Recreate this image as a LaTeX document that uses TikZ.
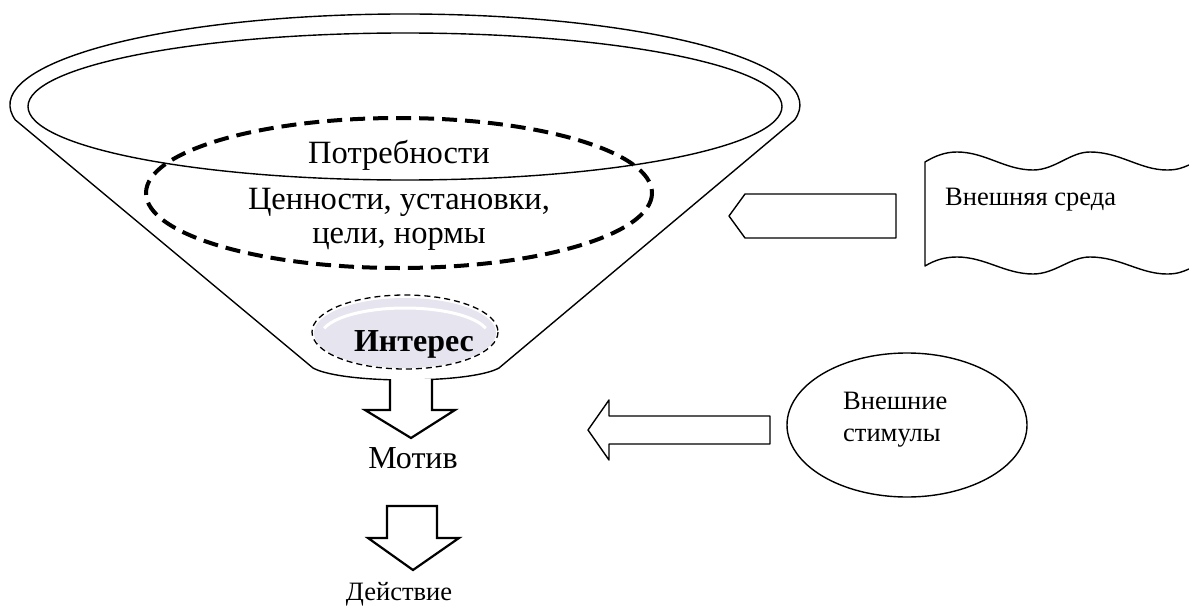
\documentclass[tikz,border=0pt]{standalone}
\usepackage{fontspec}
\setmainfont{Liberation Serif}
\definecolor{lav}{RGB}{230,228,238}
\begin{document}
\begin{tikzpicture}[x=1pt,y=-1pt,
  outline/.style={draw=black,line width=1.4pt,line join=round},
  blockarrow/.style={draw=black,line width=2.2pt,line join=miter,fill=white},
  bigdash/.style={draw=black,line width=4pt,dash pattern=on 15pt off 8pt},
  smalldash/.style={draw=black,line width=1.3pt,dash pattern=on 6pt off 4pt},
  txt/.style={inner sep=0pt,font=\fontsize{32.5}{36}\selectfont},
  smalltxt/.style={inner sep=0pt,font=\fontsize{26.5}{30}\selectfont}]
\useasboundingbox (0,0) rectangle (1189,610);

% funnel
\draw[outline] (15.4,120) arc[start angle=170.5, end angle=369.5, x radius=395, y radius=91]
  -- (499,368) .. controls (470,384) and (342,384) .. (313,368) -- cycle;
\draw[outline] (405,106.5) ellipse[x radius=377, y radius=73.5];
\draw[bigdash] (399,193) ellipse[x radius=253, y radius=75];

% interest
\fill[lav] (405,333) ellipse[x radius=91, y radius=35];
\draw[white,line width=3pt] (405,336) ++(196:84 and 28) arc[start angle=196, end angle=344, x radius=84, y radius=28];
\draw[smalldash] (405,332) ellipse[x radius=93, y radius=37];

% texts in funnel
\node[txt,anchor=base] (potr) at (399,163) {Потребности};
\node[txt,anchor=base] (cen1) at (399,209) {Ценности, установки,};
\node[txt,anchor=base] (cen2) at (399,243) {цели, нормы};
\node[inner sep=0pt,anchor=base,font=\fontsize{32}{36}\selectfont\bfseries] (int) at (414,351) {Интерес};

% down arrows
\draw[blockarrow] (390,379) -- (390,410) -- (365,410) -- (411,438) -- (455,410) -- (432,410) -- (432,379);
\node[inner sep=0pt,anchor=base,font=\fontsize{32}{36}\selectfont] (motiv) at (413,468) {Мотив};
\draw[blockarrow] (387,506) -- (387,538) -- (368,538) -- (413,570) -- (459,538) -- (437,538) -- (437,506) -- cycle;
\node[smalltxt,anchor=base] (deyst) at (399,600) {Действие};

% external environment
\draw[outline] (745,194) -- (896,194) -- (896,238) -- (745,238) -- (729,216) -- cycle;
\draw[outline] (1189,165) .. controls (1182,168) and (1177,170) .. (1167,170)
  .. controls (1140,170) and (1120,152) .. (1090,152)
  .. controls (1070,152) and (1055,170) .. (1033,170)
  .. controls (1005,170) and (985,152) .. (957,152)
  .. controls (945,152) and (935,156) .. (925,162)
  -- (925,266)
  .. controls (935,260) and (945,257) .. (957,257)
  .. controls (985,257) and (1005,274) .. (1033,274)
  .. controls (1055,274) and (1070,257) .. (1090,257)
  .. controls (1120,257) and (1140,274) .. (1167,274)
  .. controls (1177,274) and (1182,272) .. (1189,269);
\node[smalltxt,anchor=base west] (sreda) at (945,205) {Внешняя среда};

% external stimuli
\draw[outline] (907,425) ellipse[x radius=120, y radius=72];
\node[smalltxt,anchor=base west] (stim1) at (843,409) {Внешние};
\node[smalltxt,anchor=base west] (stim2) at (843,441) {стимулы};
\draw[outline] (770,416) -- (609,416) -- (609,400) -- (588,430) -- (609,460) -- (609,444) -- (770,444) -- cycle;
\end{tikzpicture}
\end{document}
